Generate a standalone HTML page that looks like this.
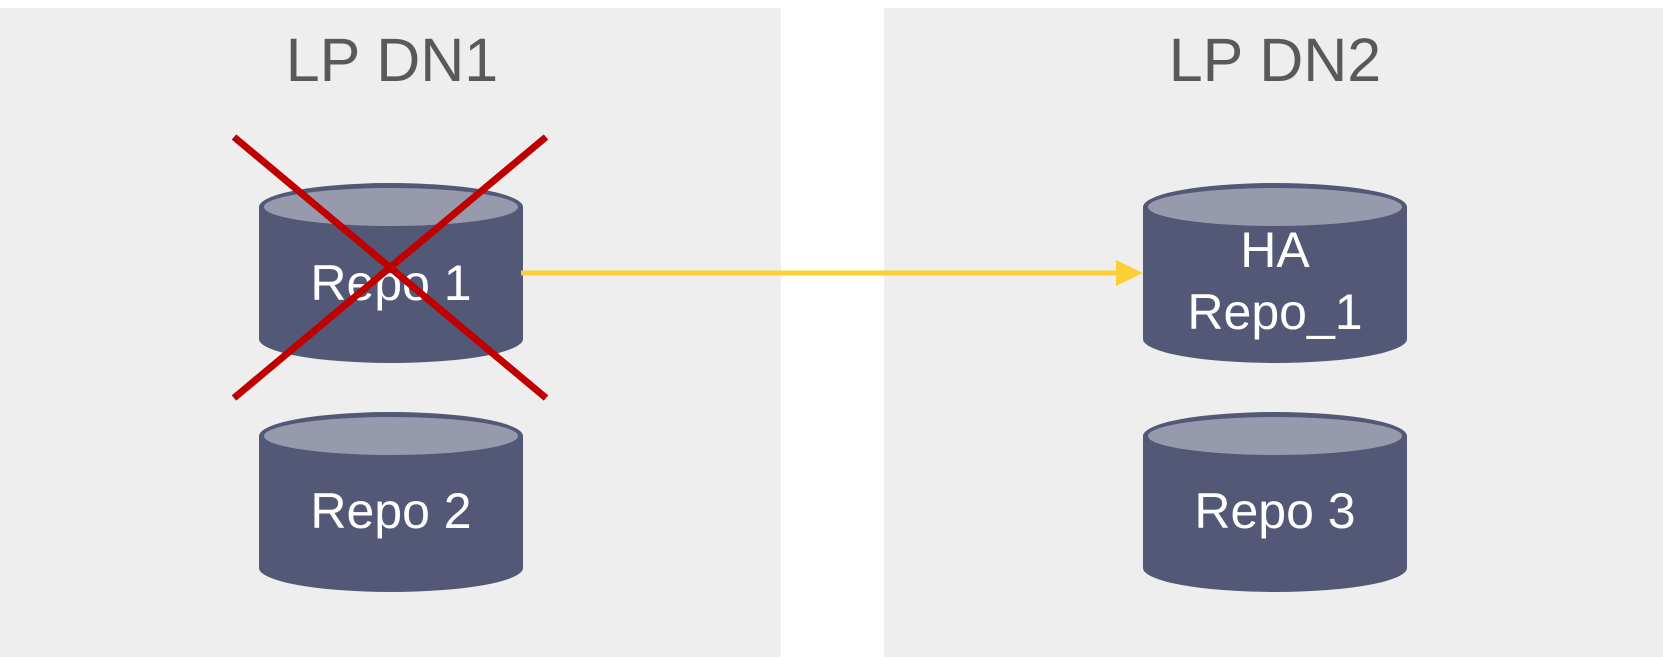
<!DOCTYPE html>
<html><head><meta charset="utf-8"><style>
html,body{margin:0;padding:0;background:#fff;}
svg{display:block;}
text{font-family:"Liberation Sans",sans-serif;}
</style></head><body>
<svg width="1663" height="660" viewBox="0 0 1663 660" xmlns="http://www.w3.org/2000/svg">
<rect x="0" y="8" width="781" height="649" fill="#eeeeee"/>
<rect x="884" y="8" width="779" height="649" fill="#eeeeee"/>
<text x="392" y="81" font-size="61" fill="#595959" text-anchor="middle">LP DN1</text>
<text x="1275" y="81" font-size="61" fill="#595959" text-anchor="middle">LP DN2</text>
<defs>
<g id="cyl">
<path d="M0,16 A132,24 0 0 1 264,16 L264,148 A132,24 0 0 1 0,148 Z" fill="#525876"/>
<ellipse cx="132" cy="16" rx="127" ry="19" fill="#979aad"/>
</g>
</defs>
<use href="#cyl" x="259" y="191"/>
<use href="#cyl" x="259" y="420"/>
<use href="#cyl" x="1143" y="191"/>
<use href="#cyl" x="1143" y="420"/>
<g fill="#ffffff" font-size="50" text-anchor="middle">
<text x="391" y="300">Repo 1</text>
<text x="391" y="528">Repo 2</text>
<text x="1275" y="267">HA</text>
<text x="1275" y="329">Repo_1</text>
<text x="1275" y="528">Repo 3</text>
</g>
<line x1="521" y1="273" x2="1120" y2="273" stroke="#fcd034" stroke-width="5"/>
<polygon points="1143,273 1116,260 1116,286" fill="#fcd034"/>
<g stroke="#c00000" stroke-width="7">
<line x1="234" y1="137" x2="546" y2="398"/>
<line x1="546" y1="137" x2="234" y2="398"/>
</g>
</svg>
</body></html>
